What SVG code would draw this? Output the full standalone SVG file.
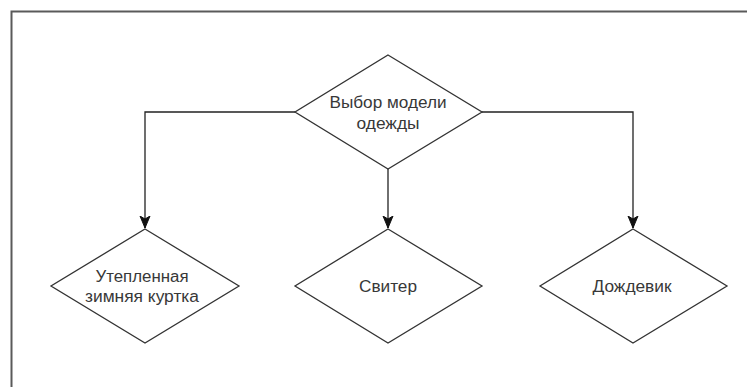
<svg xmlns="http://www.w3.org/2000/svg" width="747" height="387" viewBox="0 0 747 387">
  <style>
    .shape { fill: #ffffff; stroke: #333333; stroke-width: 1.3; }
    .edge { fill: none; stroke: #222222; stroke-width: 1.3; }
    .label { font-family: "Liberation Sans", Arial, sans-serif; font-size: 16px; fill: #383838; text-anchor: middle; }
  </style>
  <defs>
    <marker id="arr" markerUnits="userSpaceOnUse" markerWidth="12" markerHeight="14" viewBox="-6 -12 12 14" refX="0" refY="0" orient="0">
      <path d="M0,0 L-5,-12 L0,-9 L5,-12 Z" fill="#111111" stroke="#111111" stroke-width="1"/>
    </marker>
  </defs>
  <rect width="747" height="387" fill="#ffffff"/>
  <path d="M11.5,390 V11.5 H750" fill="none" stroke="#5a5a5a" stroke-width="2"/>

  <g id="connectors">
    <path class="edge" d="M295,112 H145 V228" marker-end="url(#arr)"/>
    <path class="edge" d="M388,169 V228" marker-end="url(#arr)"/>
    <path class="edge" d="M482,112 H633 V228" marker-end="url(#arr)"/>
  </g>

  <g id="node-choice">
    <path class="shape" d="M388,55 L482,112 L388,169 L295,112 Z"/>
    <text class="label" x="388" y="107.5" textLength="117" lengthAdjust="spacingAndGlyphs">Выбор модели</text>
    <text class="label" x="388" y="128.5" textLength="63" lengthAdjust="spacingAndGlyphs">одежды</text>
  </g>

  <g id="node-jacket">
    <path class="shape" d="M145,229 L239,286 L145,343 L51,286 Z"/>
    <text class="label" x="142" y="282" textLength="93" lengthAdjust="spacingAndGlyphs">Утепленная</text>
    <text class="label" x="142" y="302" textLength="114" lengthAdjust="spacingAndGlyphs">зимняя куртка</text>
  </g>

  <g id="node-sweater">
    <path class="shape" d="M388,229 L482,286 L388,343 L295,286 Z"/>
    <text class="label" x="388" y="292" textLength="58" lengthAdjust="spacingAndGlyphs">Свитер</text>
  </g>

  <g id="node-raincoat">
    <path class="shape" d="M633,229 L727,286 L633,343 L540,286 Z"/>
    <text class="label" x="632" y="292" textLength="79" lengthAdjust="spacingAndGlyphs">Дождевик</text>
  </g>
</svg>
